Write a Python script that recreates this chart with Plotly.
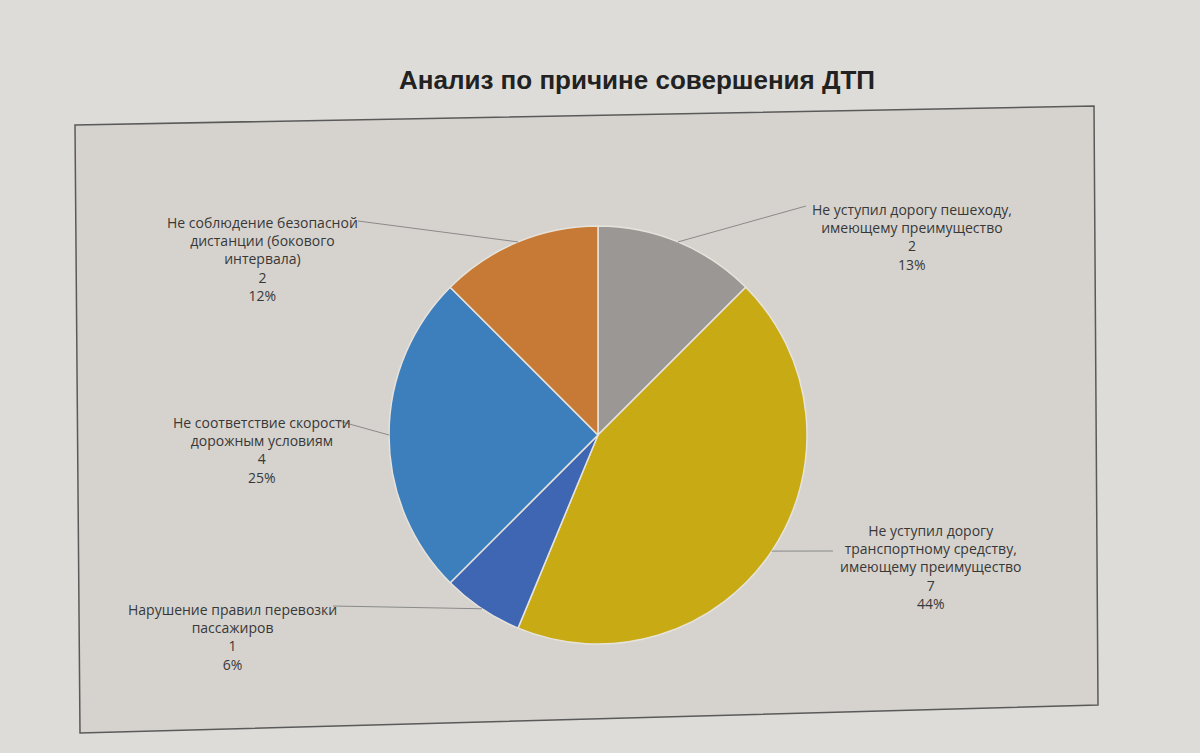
import math
import plotly.graph_objects as go

W, H = 1200, 753

categories = [
    "Не уступил дорогу пешеходу,<br>имеющему преимущество",
    "Не уступил дорогу<br>транспортному средству,<br>имеющему преимущество",
    "Нарушение правил перевозки<br>пассажиров",
    "Не соответствие скорости<br>дорожным условиям",
    "Не соблюдение безопасной<br>дистанции (бокового<br>интервала)",
]
values = [2, 7, 1, 4, 2]
pct_labels = ["13%", "44%", "6%", "25%", "12%"]
colors = ["#9a9794", "#c8aa14", "#3e66b3", "#3d7fbd", "#c77a35"]

# layout positions (pixels): label center x, label top y, leader-line label end point
label_pos = [(912, 198), (930, 519), (232, 598), (262, 411), (262, 211)]
leader_end = [(806, 206), (833, 551), (333, 606), (335, 420), (358, 221)]

cx, cy, R = 598, 435, 209

def px(x):
    return x / W

def py(y):
    return 1 - y / H

fig = go.Figure()
fig.add_trace(go.Pie(
    labels=[c.replace("<br>", " ") for c in categories],
    values=values,
    sort=False,
    direction="clockwise",
    rotation=0,
    textinfo="none",
    hoverinfo="label+value+percent",
    marker=dict(colors=colors, line=dict(color="#e6e3dc", width=1.5)),
    domain=dict(x=[px(cx - R), px(cx + R)], y=[py(cy + R), py(cy - R)]),
    showlegend=False,
))

shapes = []
# frame (slightly skewed as in the photo)
shapes.append(dict(
    type="path", xref="paper", yref="paper",
    path=f"M {px(75)} {py(125)} L {px(1094)} {py(106)} L {px(1098)} {py(705)} L {px(80)} {py(733)} Z",
    line=dict(color="#5a5a5a", width=1.5), fillcolor="#d6d3ce", layer="below",
))

annotations = []
total = sum(values)
cum = 0
for i, v in enumerate(values):
    mid = (cum + v / 2) / total * 2 * math.pi
    cum += v
    ex = cx + R * math.sin(mid)
    ey = cy - R * math.cos(mid)
    lx, ly = leader_end[i]
    shapes.append(dict(
        type="line", xref="paper", yref="paper",
        x0=px(ex), y0=py(ey), x1=px(lx), y1=py(ly),
        line=dict(color="#8a8a8a", width=1),
    ))
    tx, ty = label_pos[i]
    annotations.append(dict(
        x=px(tx), y=py(ty), xref="paper", yref="paper",
        xanchor="center", yanchor="top", showarrow=False, align="center",
        text=f"{categories[i]}<br>{v}<br>{pct_labels[i]}",
        font=dict(family="Open Sans", size=14, color="#383838"),
    ))

annotations.append(dict(
    x=px(637), y=py(80), xref="paper", yref="paper",
    xanchor="center", yanchor="middle", showarrow=False,
    text="<b>Анализ по причине совершения ДТП</b>",
    font=dict(family="Liberation Sans", size=26, color="#222222"),
))

fig.update_layout(
    width=W, height=H,
    margin=dict(l=0, r=0, t=0, b=0),
    paper_bgcolor="#dedcd8",
    plot_bgcolor="#dedcd8",
    shapes=shapes,
    annotations=annotations,
)

fig.write_html(
    "out.html",
    config={"displayModeBar": False},
    post_script="document.body.style.margin='0';document.body.style.background='#dedcd8';",
)
